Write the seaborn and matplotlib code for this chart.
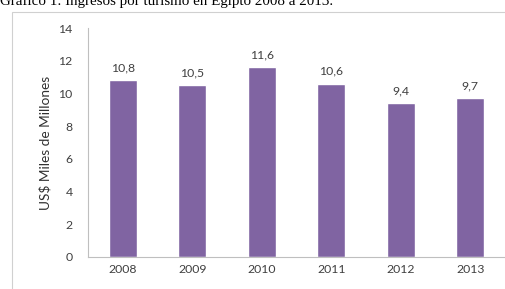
import matplotlib
matplotlib.use("Agg")
import matplotlib.pyplot as plt
import seaborn as sns
import pandas as pd
from matplotlib.patches import Rectangle

# Datos del gráfico
anios = ["2008", "2009", "2010", "2011", "2012", "2013"]
ingresos = [10.8, 10.5, 11.6, 10.6, 9.4, 9.7]
etiquetas = ["10,8", "10,5", "11,6", "10,6", "9,4", "9,7"]
y_ticks = [0, 2, 4, 6, 8, 10, 12, 14]

titulo = "Gráfico 1: Ingresos por turismo en Egipto 2008 a 2013."
y_label = "US$ Miles de Millones"

sns.set_theme(style="white")
plt.rcParams["font.family"] = ["Lato", "DejaVu Sans"]

df = pd.DataFrame({"anio": anios, "ingresos": ingresos})

fig = plt.figure(figsize=(5.06, 2.89), dpi=100)
ax = fig.add_axes([0.174, 0.111, 0.824, 0.792])

sns.barplot(data=df, x="anio", y="ingresos", color="#8064A2", width=0.4,
            saturation=1, ax=ax)

for i, (v, t) in enumerate(zip(ingresos, etiquetas)):
    ax.annotate(t, (i, v), xytext=(0, 5), textcoords="offset points",
                ha="center", va="bottom", fontsize=8.8, color="#404040")

ax.set_ylim(0, 14)
ax.set_yticks(y_ticks)
ax.set_xlim(-0.5, 5.5)
ax.tick_params(axis="both", length=0, labelsize=8.8, colors="#404040")
ax.tick_params(axis="x", pad=5)
ax.tick_params(axis="y", pad=11)
ax.set_xlabel("")
ax.set_ylabel(y_label, fontsize=9.8, color="#303030", labelpad=5)

for s in ["top", "right"]:
    ax.spines[s].set_visible(False)
for s in ["left", "bottom"]:
    ax.spines[s].set_color("#BFBFBF")
    ax.spines[s].set_linewidth(0.8)

# marco exterior
fig.patches.append(Rectangle((12 / 506, -0.1), 1.1, (289 - 12) / 289 + 0.1,
                             transform=fig.transFigure, fill=False,
                             edgecolor="#D0D0D0", linewidth=0.8))

fig.text(0.0, (289 - 5) / 289, titulo, family="Liberation Serif",
         fontsize=10.8, ha="left", va="baseline", color="black")

fig.savefig("out.png", dpi=100)
